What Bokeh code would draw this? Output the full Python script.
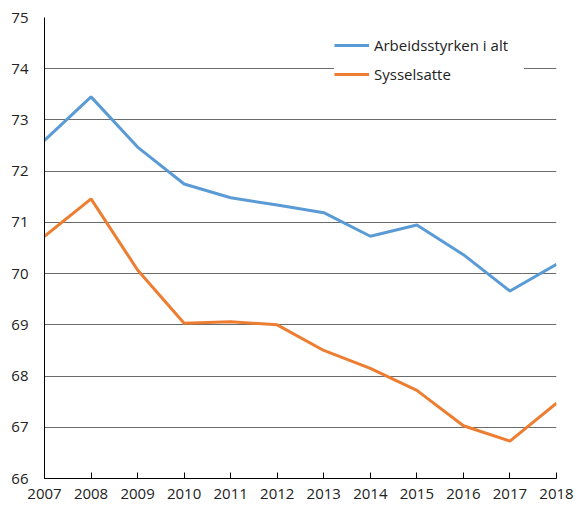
from bokeh.plotting import figure
from bokeh.models import Legend, LegendItem, FixedTicker, Range1d
from bokeh.embed import file_html
from bokeh.resources import INLINE

years = [2007, 2008, 2009, 2010, 2011, 2012, 2013, 2014, 2015, 2016, 2017, 2018]
arbeidsstyrken = [72.60, 73.45, 72.47, 71.75, 71.48, 71.34, 71.19, 70.73, 70.95, 70.37, 69.66, 70.18]
sysselsatte = [70.73, 71.46, 70.07, 69.03, 69.06, 69.00, 68.50, 68.15, 67.72, 67.03, 66.73, 67.47]
y_ticks = [66, 67, 68, 69, 70, 71, 72, 73, 74, 75]
label_blue = "Arbeidsstyrken i alt"
label_orange = "Sysselsatte"

FONT = "Open Sans"

p = figure(width=576, height=504, output_backend="svg", toolbar_location=None,
           x_range=Range1d(2007, 2018), y_range=Range1d(66, 75),
           min_border_left=44, min_border_right=20, min_border_top=17, min_border_bottom=26)
p.outline_line_color = None
p.background_fill_color = "white"
p.border_fill_color = "white"

r1 = p.line(years, arbeidsstyrken, line_color="#5A9BD5", line_width=3)
r2 = p.line(years, sysselsatte, line_color="#ED7D31", line_width=3)

p.xaxis.ticker = FixedTicker(ticks=years)
p.yaxis.ticker = FixedTicker(ticks=y_ticks)
p.xgrid.grid_line_color = None
p.ygrid.grid_line_color = "#6b6b6b"
p.ygrid.grid_line_width = 1

for ax in (p.xaxis, p.yaxis):
    ax.axis_line_color = "black"
    ax.axis_line_width = 1
    ax.major_label_text_font = FONT
    ax.major_label_text_font_size = "15px"
    ax.major_label_text_color = "#222222"
    ax.minor_tick_line_color = None

p.xaxis.major_tick_in = 6
p.xaxis.major_tick_out = 0
p.xaxis.major_tick_line_color = "black"
p.xaxis.major_label_standoff = 10
p.yaxis.major_tick_line_color = None
p.yaxis.major_tick_in = 0
p.yaxis.major_tick_out = 0
p.yaxis.major_label_standoff = 16

legend = Legend(items=[LegendItem(label=label_blue, renderers=[r1]),
                       LegendItem(label=label_orange, renderers=[r2])],
                location=(290, 394))
legend.background_fill_color = "white"
legend.background_fill_alpha = 1
legend.border_line_color = None
legend.padding = 14
legend.spacing = 9
legend.margin = 0
legend.glyph_width = 35
legend.glyph_height = 20
legend.label_height = 20
legend.label_width = 150
legend.label_standoff = 5
legend.label_text_font = FONT
legend.label_text_font_size = "15px"
legend.label_text_color = "#222222"
p.add_layout(legend, "center")

open("out.html", "w").write(file_html(p, INLINE))
